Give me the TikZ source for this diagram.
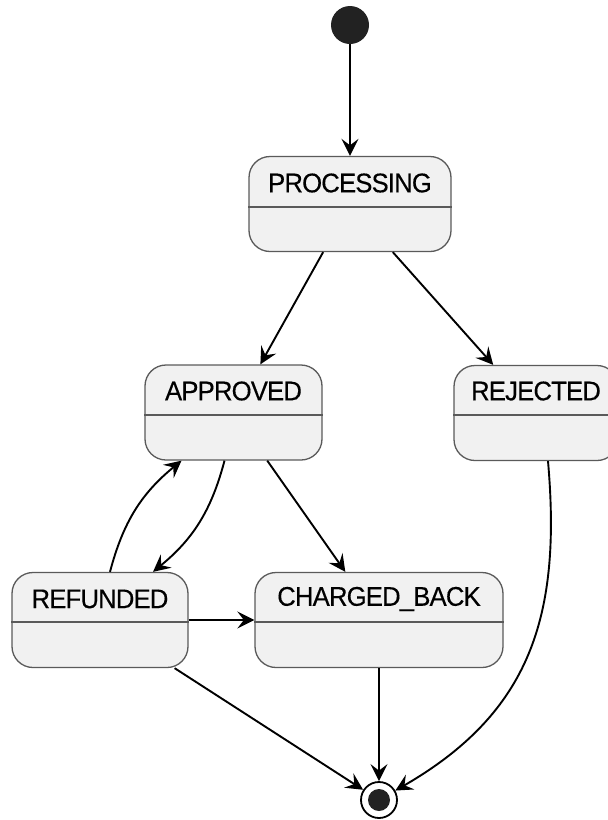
\documentclass[tikz,border=0pt]{standalone}
\usepackage{fontspec}
\setmainfont{Liberation Sans}
\newfontfamily\statefont[FakeStretch=0.95, LetterSpace=-3, FakeBold=0.3]{Liberation Sans}
\usetikzlibrary{arrows.meta}
\definecolor{boxfill}{HTML}{F1F1F1}
\definecolor{boxline}{HTML}{5A5A5A}
\definecolor{dot}{HTML}{222222}
\tikzset{
  statebox/.style={draw=boxline, fill=boxfill, line width=1.3pt, rounded corners=21pt, inner sep=0pt, minimum height=95pt},
  statetext/.style={inner sep=0pt, font=\statefont\fontsize{27}{31}\selectfont, text=black},
  divider/.style={draw=boxline, line width=1.3pt},
  edge/.style={draw=black, line width=1.9pt, -{Stealth[length=17pt, width=17pt, inset=6.5pt]}},
}
\begin{document}
\begin{tikzpicture}[x=1pt,y=-1pt]
\useasboundingbox (0,0) rectangle (608,820);
% start
\node[circle, fill=dot, minimum size=38pt, inner sep=0pt] (start) at (350,25) {};
% states
\node[statebox, minimum width=202pt] (proc) at (350,204) {};
\node[statetext] (proct) at (350,183) {PROCESSING};
\draw[divider] (proc.west |- 0,207) -- (proc.east |- 0,207);

\node[statebox, minimum width=177pt] (appr) at (233.5,412.5) {};
\node[statetext] (apprt) at (233.5,391) {APPROVED};
\draw[divider] (appr.west |- 0,415) -- (appr.east |- 0,415);

\node[statebox, minimum width=164pt] (rej) at (536,413) {};
\node[statetext] (rejt) at (536,391) {REJECTED};
\draw[divider] (rej.west |- 0,415) -- (rej.east |- 0,415);

\node[statebox, minimum width=176pt] (ref) at (100,620) {};
\node[statetext] (reft) at (100,599) {REFUNDED};
\draw[divider] (ref.west |- 0,622) -- (ref.east |- 0,622);

\node[statebox, minimum width=248pt] (cb) at (379,620) {};
\node[statetext] (cbt) at (379,599) {CHARGED\_BACK};
\draw[divider] (cb.west |- 0,622) -- (cb.east |- 0,622);

% end
\node[circle, draw=black, fill=white, line width=1.8pt, minimum size=36pt, inner sep=0pt] (endc) at (379,800) {};
\node[circle, fill=dot, minimum size=22pt, inner sep=0pt] (endi) at (379,800) {};

% edges
\draw[edge] (start) -- (proc);
\draw[edge] (proc) -- (appr);
\draw[edge] (proc) -- (rej);
\draw[edge] (appr) -- (cb);
\draw[edge] ([xshift=-9pt]appr.south) to[bend left=18] ([xshift=53pt]ref.north);
\draw[edge] ([xshift=10pt]ref.north) to[bend left=18] ([xshift=-52pt]appr.south);
\draw[edge] (ref) -- (cb);
\draw[edge] (ref) -- (endc);
\draw[edge] (cb) -- (endc);
\draw[edge] ([xshift=12pt]rej.south) to[out=-85, in=30, looseness=1.1] (endc);
\end{tikzpicture}
\end{document}
